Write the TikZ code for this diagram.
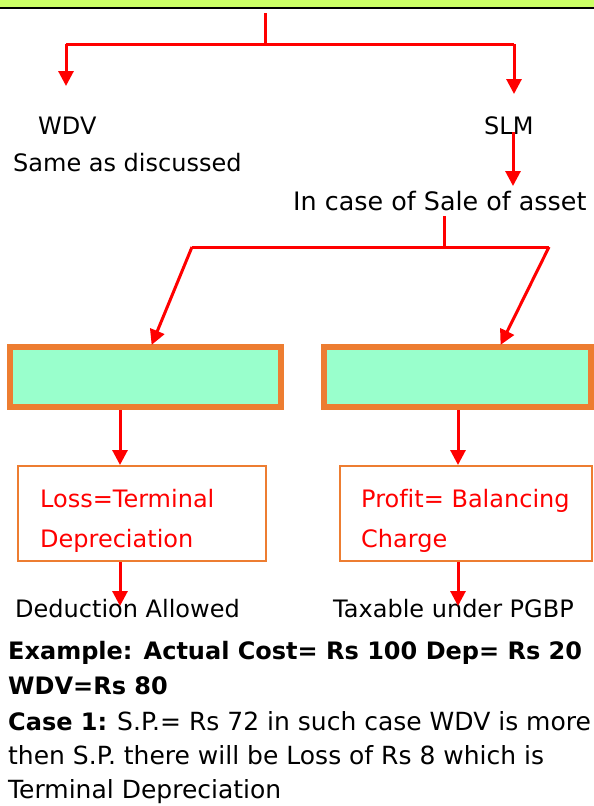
\documentclass[tikz,border=0pt]{standalone}
\usepackage{fontspec}
\setmainfont[Ligatures=NoCommon]{DejaVu Sans}
\usetikzlibrary{arrows.meta}

\definecolor{headgreen}{HTML}{CCFF66}
\definecolor{boxgreen}{HTML}{99FFCC}
\definecolor{boxorange}{HTML}{ED7D31}
\definecolor{linkred}{HTML}{FF0000}

\tikzset{
  link/.style={draw=linkred, line width=3pt},
  linkarrow/.style={link, -{Triangle[width=15pt,length=15pt]}},
  label/.style={anchor=base west, inner sep=0pt, font=\fontsize{24}{28}\selectfont},
  redlabel/.style={label, text=linkred},
  greenbox/.style={draw=boxorange, fill=boxgreen, line width=6pt},
  outlinebox/.style={draw=boxorange, line width=2pt},
  para/.style={anchor=base west, inner sep=0pt, font=\fontsize{25}{28}\selectfont},
  boldpara/.style={para, font=\fontsize{24}{28}\selectfont\bfseries},
}

\begin{document}
\begin{tikzpicture}[x=1pt, y=-1pt]
  \useasboundingbox (0,0) rectangle (594,806);

  % heading strip
  \fill[headgreen] (0,-4) rectangle (594,7);
  \draw[line width=2pt] (0,7.8) -- (594,7.8);

  % first split: WDV / SLM
  \coordinate (top) at (265,13);
  \coordinate (topjoin) at (265,44);
  \coordinate (leftcorner) at (66,44);
  \coordinate (rightcorner) at (514,44);
  \coordinate (wdvtip) at (66,86);
  \coordinate (slmtip) at (514,94);
  \draw[link] (top) -- (topjoin);
  \draw[link] (leftcorner) -- (rightcorner);
  \draw[linkarrow] (leftcorner) -- (wdvtip);
  \draw[linkarrow] (rightcorner) -- (slmtip);

  \node[label] (wdv) at (38,134) {WDV};
  \node[label] (same) at (13,171) {Same as discussed};
  \node[label] (slm) at (484,134) {SLM};
  \node[label, font=\fontsize{25.4}{28}\selectfont] (sale) at (293,210) {In case of Sale of asset};

  \coordinate (slmfoot) at (513,132);
  \coordinate (saletip) at (513,186);
  \draw[linkarrow] (slmfoot) -- (saletip);

  % second split: loss / profit
  \coordinate (salefoot) at (444,216);
  \coordinate (salejoin) at (444,247);
  \coordinate (lossturn) at (192,247);
  \coordinate (profitturn) at (549,247);
  \draw[link] (salefoot) -- (salejoin);
  \draw[link] (lossturn) -- (profitturn);

  \node[greenbox, minimum width=271pt, minimum height=60pt, inner sep=0pt] (losshead) at (145.5,377) {};
  \node[greenbox, minimum width=267pt, minimum height=60pt, inner sep=0pt] (profithead) at (457.5,377) {};

  \draw[linkarrow, shorten >=-1pt] (lossturn) -- (losshead.north -| 152,0);
  \draw[linkarrow, shorten >=-1pt] (profitturn) -- (profithead.north -| 501,0);

  % outcome boxes
  \node[outlinebox, minimum width=248pt, minimum height=95pt, inner sep=0pt] (lossbox) at (142,513.5) {};
  \node[outlinebox, minimum width=252pt, minimum height=95pt, inner sep=0pt] (profitbox) at (466,513.5) {};
  \node[redlabel] (loss1) at (40,507) {Loss=Terminal};
  \node[redlabel] (loss2) at (40,547) {Depreciation};
  \node[redlabel] (profit1) at (361,507) {Profit= Balancing};
  \node[redlabel] (profit2) at (361,547) {Charge};

  \draw[linkarrow] (losshead.south -| 120,0) -- (lossbox.north -| 120,0);
  \draw[linkarrow] (profithead.south -| 458,0) -- (profitbox.north -| 458,0);

  \node[label] (deduct) at (15,617) {Deduction Allowed};
  \node[label] (taxable) at (333,617) {Taxable under PGBP};
  \coordinate (deducttip) at (120,606);
  \coordinate (taxabletip) at (458,606);
  \draw[linkarrow] (lossbox.south -| 120,0) -- (deducttip);
  \draw[linkarrow] (profitbox.south -| 458,0) -- (taxabletip);

  % worked example
  \node[boldpara] (ex1) at (8,659) {Example: Actual Cost= Rs 100 Dep= Rs 20};
  \node[boldpara] (ex2) at (8,694) {WDV=Rs 80};
  \node[para] (ex3) at (8,730) {{\fontsize{24}{28}\selectfont\bfseries Case 1:}\hspace{10pt}S.P.= Rs 72 in such case WDV is more};
  \node[para] (ex4) at (8,764) {then S.P. there will be Loss of Rs 8 which is};
  \node[para] (ex5) at (8,798) {Terminal Depreciation};
\end{tikzpicture}
\end{document}
